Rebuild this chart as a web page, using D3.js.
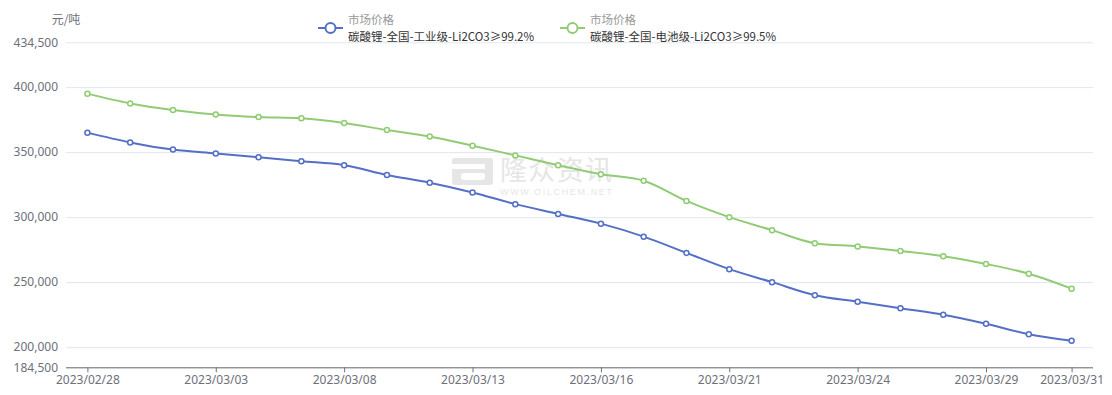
<!DOCTYPE html>
<html>
<head>
<meta charset="utf-8">
<script src="https://cdn.jsdelivr.net/npm/d3@7"></script>
<style>
  html, body { margin: 0; padding: 0; background: #fff; }
  svg { display: block; font-family: "Microsoft YaHei", "Noto Sans CJK SC", "Noto Sans", sans-serif; }
</style>
</head>
<body>
<div id="chart"></div>
<script>
// trading days shown on the x axis
const DATES = ["2023/02/28", "2023/03/01", "2023/03/02", "2023/03/03", "2023/03/06", "2023/03/07",
  "2023/03/08", "2023/03/09", "2023/03/10", "2023/03/13", "2023/03/14", "2023/03/15",
  "2023/03/16", "2023/03/17", "2023/03/20", "2023/03/21", "2023/03/22", "2023/03/23",
  "2023/03/24", "2023/03/27", "2023/03/28", "2023/03/29", "2023/03/30", "2023/03/31"];

// 碳酸锂-全国-工业级 (元/吨)
const INDUSTRIAL = [365000, 357500, 352000, 349000, 346000, 343000, 340000, 332500, 326500, 319000,
  310000, 302500, 295000, 285000, 272500, 260000, 250000, 240000, 235000, 230000,
  225000, 218000, 210000, 205000];

// 碳酸锂-全国-电池级 (元/吨)
const BATTERY = [395000, 387500, 382500, 379000, 377000, 376000, 372500, 367000, 362000, 355000,
  347500, 340000, 333000, 328000, 312500, 300000, 290000, 280000, 277500, 274000,
  270000, 264000, 256500, 245000];

const Y_TICKS = [184500, 200000, 250000, 300000, 350000, 400000, 434500];
const SERIES_NAMES = ["碳酸锂-全国-工业级-Li2CO3≥99.2%", "碳酸锂-全国-电池级-Li2CO3≥99.5%"];
const LEGEND_TITLE = "市场价格";
const UNIT = "元/吨";

document.addEventListener('DOMContentLoaded', () => {
  Chart();
});

function Chart() {
  const width = 1112, height = 395;
  const margin = { top: 42.3, right: 19, bottom: 27.7, left: 66 };
  const colors = ["#5470c6", "#91cc75"];
  const axisColor = "#6e7079";

  const series = [
    { name: SERIES_NAMES[0], values: INDUSTRIAL },
    { name: SERIES_NAMES[1], values: BATTERY }
  ];

  const x = d3.scalePoint()
    .domain(DATES)
    .range([margin.left, width - margin.right])
    .padding(0.5);

  const y = d3.scaleLinear()
    .domain([Y_TICKS[0], Y_TICKS[Y_TICKS.length - 1]])
    .range([height - margin.bottom, margin.top]);

  const svg = d3.select("#chart").append("svg")
    .attr("width", width)
    .attr("height", height);

  // watermark (logo + name + url)
  const wm = svg.append("g").attr("fill", "#e6e6e6");
  wm.append("rect")
    .attr("x", 452).attr("y", 158).attr("width", 41).attr("height", 27).attr("rx", 3);
  wm.append("rect")
    .attr("x", 452).attr("y", 164).attr("width", 33).attr("height", 5).attr("fill", "#fff");
  wm.append("rect")
    .attr("x", 461).attr("y", 173).attr("width", 24).attr("height", 7).attr("rx", 3).attr("fill", "#fff");
  wm.append("text")
    .attr("x", 500).attr("y", 180)
    .attr("font-size", 27)
    .attr("textLength", 112)
    .text("隆众资讯");
  wm.append("text")
    .attr("x", 500).attr("y", 195)
    .attr("font-size", 9)
    .attr("font-family", "\"Liberation Sans\", sans-serif")
    .attr("textLength", 112)
    .text("WWW.OILCHEM.NET");

  // y axis: grid + labels
  const yAxis = g => g
    .attr("transform", `translate(${margin.left},0)`)
    .call(d3.axisLeft(y).tickValues(Y_TICKS).tickSize(-(width - margin.left - margin.right))
      .tickFormat(d3.format(",")).tickPadding(8))
    .call(g => g.select(".domain").remove())
    .call(g => g.selectAll(".tick line").attr("stroke", "#e0e6f1"))
    .call(g => g.selectAll(".tick text")
      .attr("fill", axisColor)
      .attr("font-size", 12)
      .attr("font-family", "\"Microsoft YaHei\", \"Noto Sans\", sans-serif"));

  svg.append("g").call(yAxis);

  // x axis, labels every third day plus the last one
  const labelled = DATES.filter((d, i) => i % 3 === 0 || i === DATES.length - 1);
  const xAxis = g => g
    .attr("transform", `translate(0,${height - margin.bottom})`)
    .call(d3.axisBottom(x).tickValues(labelled).tickSize(5).tickSizeOuter(0).tickPadding(3))
    .call(g => g.select(".domain")
      .attr("d", `M${margin.left},0.5H${width - margin.right}`)
      .attr("stroke", axisColor))
    .call(g => g.selectAll(".tick line").attr("stroke", axisColor))
    .call(g => g.selectAll(".tick text")
      .attr("fill", axisColor)
      .attr("font-size", 12)
      .attr("font-family", "\"Microsoft YaHei\", \"Noto Sans\", sans-serif"));

  svg.append("g").call(xAxis);

  // unit label
  svg.append("text")
    .attr("x", 66).attr("y", 24)
    .attr("text-anchor", "middle")
    .attr("fill", axisColor)
    .attr("font-size", 12)
    .text(UNIT);

  // lines
  const line = d3.line()
    .x((d, i) => x(DATES[i]))
    .y(d => y(d))
    .curve(d3.curveMonotoneX);

  const sg = svg.append("g")
    .selectAll("g")
    .data(series)
    .join("g");

  sg.append("path")
    .attr("fill", "none")
    .attr("stroke", (d, i) => colors[i])
    .attr("stroke-width", 2)
    .attr("stroke-linejoin", "round")
    .attr("d", d => line(d.values));

  sg.each(function (d, si) {
    d3.select(this).selectAll("circle")
      .data(d.values)
      .join("circle")
      .attr("cx", (v, i) => x(DATES[i]))
      .attr("cy", v => y(v))
      .attr("r", 2.5)
      .attr("fill", "#fff")
      .attr("stroke", colors[si])
      .attr("stroke-width", 1.5);
  });

  // legend
  const legendX = [318, 560];
  const legend = svg.append("g")
    .selectAll("g")
    .data(series)
    .join("g")
    .attr("transform", (d, i) => `translate(${legendX[i]},0)`);

  legend.append("line")
    .attr("x1", 0).attr("x2", 25)
    .attr("y1", 28).attr("y2", 28)
    .attr("stroke", (d, i) => colors[i])
    .attr("stroke-width", 2);

  legend.append("circle")
    .attr("cx", 12.5).attr("cy", 28).attr("r", 5)
    .attr("fill", "#fff")
    .attr("stroke", (d, i) => colors[i])
    .attr("stroke-width", 2);

  legend.append("text")
    .attr("x", 30).attr("y", 24)
    .attr("font-size", 11.5)
    .attr("fill", "#999")
    .text(LEGEND_TITLE);

  legend.append("text")
    .attr("x", 30).attr("y", 40.5)
    .attr("font-size", 11.5)
    .attr("fill", "#333")
    .text(d => d.name);
}
</script>
</body>
</html>
